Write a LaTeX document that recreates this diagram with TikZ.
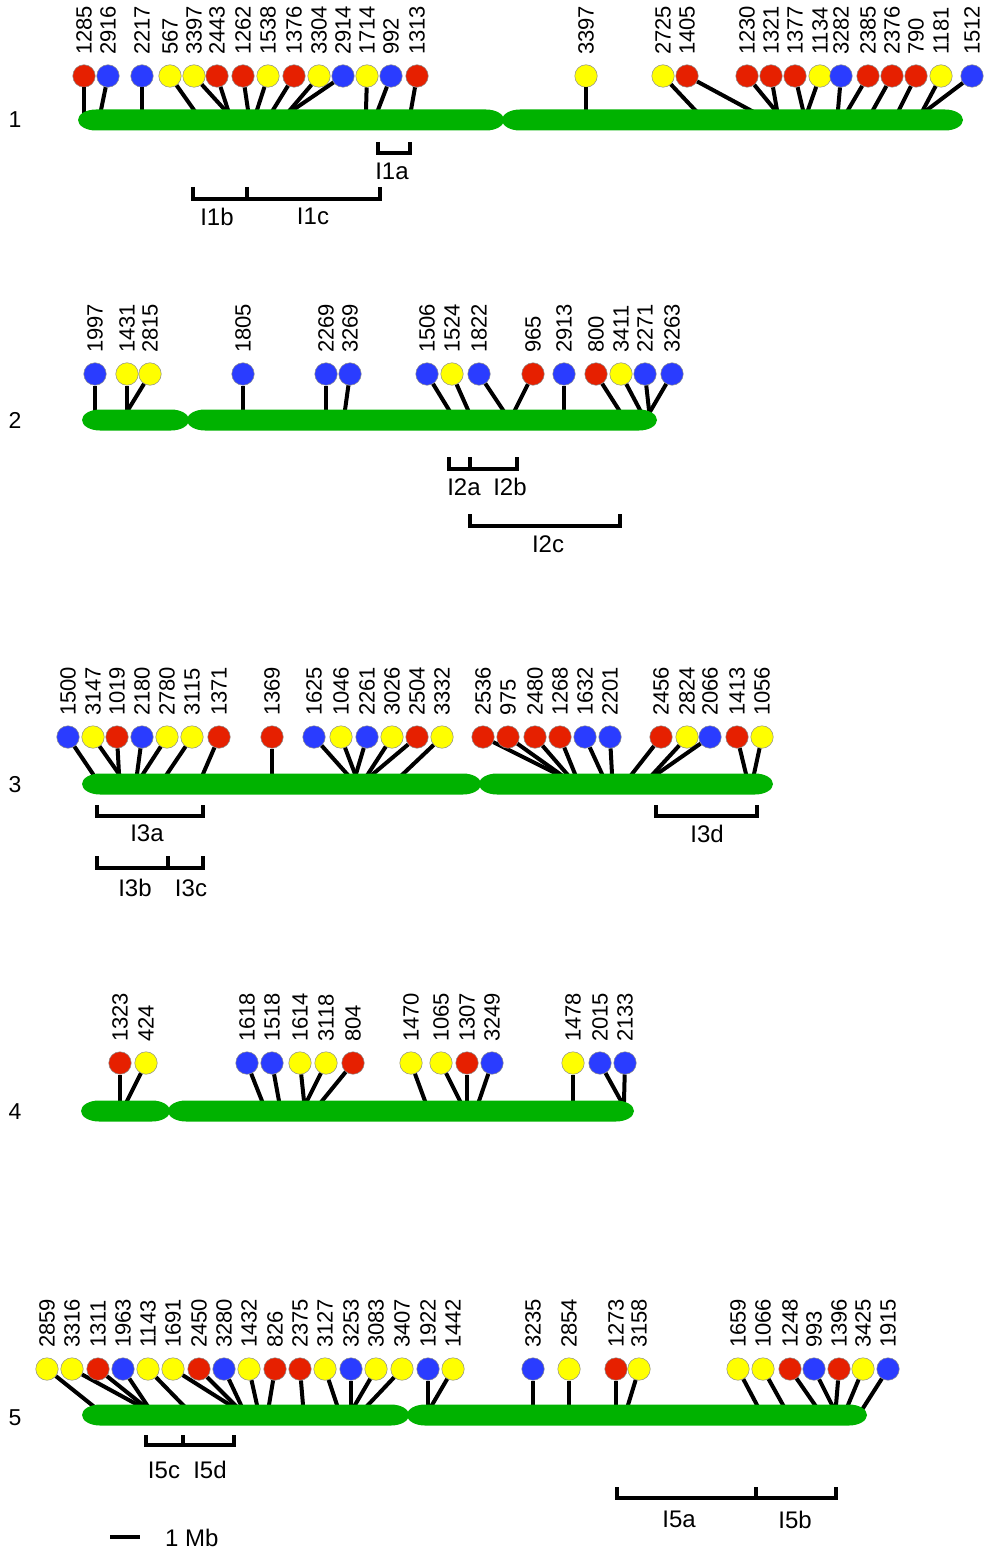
\documentclass[tikz,border=0pt]{standalone}
\usepackage{fontspec}
\setmainfont{Liberation Sans}
\usepackage{xcolor}
\usepackage{tikz}
\usetikzlibrary{positioning, calc}

\definecolor{cR}{RGB}{230,32,0}
\definecolor{cB}{RGB}{42,60,255}
\definecolor{cY}{RGB}{255,255,0}
\definecolor{chrgreen}{RGB}{0,178,0}

% one arm of a chromosome: left x, right x, centre y
\newcommand\chrarm[3]{%
  \fill[chrgreen] (#1+18,#3-10.5) -- (#2-18,#3-10.5)
    arc[start angle=-90, end angle=90, x radius=18, y radius=10.5]
    -- (#1+18,#3+10.5)
    arc[start angle=90, end angle=270, x radius=18, y radius=10.5] -- cycle;}
% bracket: left x, right x, top y, bottom y
\newcommand\brkt[4]{%
  \draw[brk] (#1,#3) -- (#1,#4) -- (#2,#4) -- (#2,#3);}

\begin{document}
\begin{tikzpicture}[x=1pt, y=-1pt,
  snp/.style={circle, draw=black!45, line width=0.5pt, minimum size=22.5pt, inner sep=0pt},
  num/.style={rotate=90, anchor=west, inner sep=0pt, font=\fontsize{22}{22}\selectfont},
  stem/.style={line width=4pt, shorten >=-6pt},
  brk/.style={line width=3.4pt, line join=miter},
  lbl/.style={inner sep=0pt, font=\fontsize{24}{24}\selectfont},
  chr/.style={inner sep=0pt, font=\fontsize{23}{23}\selectfont}
]
\useasboundingbox (0,0) rectangle (984,1554);

% chromosome 1
\node[chr] (chr1) at (15,120) {1};
\foreach \cx/\bx/\col/\lab [count=\i] in {84/84/R/1285, 108/101/B/2916, 142/142/B/2217,
    170/194/Y/567, 194/225/Y/3397, 217/228/R/2443, 243/248/R/1262, 268/257/Y/1538,
    294/273/R/1376, 319/290/Y/3304, 343/293/B/2914, 367/366/Y/1714, 391/378/B/992,
    417/411/R/1313, 586/586/Y/3397, 663/695/Y/2725, 687/750/R/1405, 747/775/R/1230,
    771/777/R/1321, 795/803/R/1377, 820/808/Y/1134, 841/838/B/3282, 868/848/R/2385,
    892/873/R/2376, 916/899/R/790, 941/923/Y/1181, 972/927/B/1512} {
  \node[snp, fill=c\col] (s1-\i) at (\cx,76) {};
  \node[num] (n1-\i) at (\cx,55) {\lab};
  \coordinate (a1-\i) at (\bx,110);
  \draw[stem] (s1-\i) -- (a1-\i);
}
\chrarm{78}{504}{120}
\chrarm{502}{963}{120}
\brkt{378}{410}{142}{153}
\node[lbl] (i1a) at (392,171) {I1a};
\brkt{193}{380}{187}{199}
\draw[brk] (247,187) -- (247,199);
\node[lbl] (i1b) at (217,217) {I1b};
\node[lbl] (i1c) at (313,216) {I1c};

% chromosome 2
\node[chr] (chr2) at (15,420) {2};
\foreach \cx/\bx/\col/\lab [count=\i] in {95/95/B/1997, 127/127/Y/1431, 150/128/Y/2815,
    243/243/B/1805, 326/326/B/2269, 350/345/B/3269, 427/449/B/1506, 452/468/Y/1524,
    479/503/B/1822, 533/515/R/965, 564/564/B/2913, 596/619/R/800, 621/640/Y/3411,
    645/649/B/2271, 672/651/B/3263} {
  \node[snp, fill=c\col] (s2-\i) at (\cx,374) {};
  \node[num] (n2-\i) at (\cx,353) {\lab};
  \coordinate (a2-\i) at (\bx,410);
  \draw[stem] (s2-\i) -- (a2-\i);
}
\chrarm{82}{189}{420}
\chrarm{187}{657}{420}
\brkt{449}{517}{457}{469}
\draw[brk] (470,457) -- (470,469);
\node[lbl] (i2a) at (464,487) {I2a};
\node[lbl] (i2b) at (510,487) {I2b};
\brkt{470}{620}{514}{526}
\node[lbl] (i2c) at (548,544) {I2c};

% chromosome 3
\node[chr] (chr3) at (15,785) {3};
\foreach \cx/\bx/\col/\lab [count=\i] in {68/93/B/1500, 93/119/Y/3147, 117/119/R/1019,
    142/137/B/2180, 167/143/Y/2780, 192/167/Y/3115, 219/203/R/1371, 272/272/R/1369,
    314/347/B/1625, 341/355/Y/1046, 367/356/B/2261, 392/368/Y/3026, 417/373/R/2504,
    442/403/Y/3332, 483/557/R/2536, 508/560/R/975, 535/567/R/2480, 560/575/R/1268,
    585/602/B/1632, 610/612/B/2201, 661/632/R/2456, 687/653/Y/2824, 710/657/B/2066,
    737/746/R/1413, 762/754/Y/1056} {
  \node[snp, fill=c\col] (s3-\i) at (\cx,737) {};
  \node[num] (n3-\i) at (\cx,716) {\lab};
  \coordinate (a3-\i) at (\bx,774);
  \draw[stem] (s3-\i) -- (a3-\i);
}
\chrarm{82}{481}{784}
\chrarm{479}{773}{784}
\brkt{97}{203}{805}{816}
\node[lbl] (i3a) at (147,833) {I3a};
\brkt{97}{203}{856}{868}
\draw[brk] (168,856) -- (168,868);
\node[lbl] (i3b) at (135,888) {I3b};
\node[lbl] (i3c) at (191,888) {I3c};
\brkt{656}{757}{805}{816}
\node[lbl] (i3d) at (707,834) {I3d};

% chromosome 4
\node[chr] (chr4) at (15,1112) {4};
\foreach \cx/\bx/\col/\lab [count=\i] in {120/120/R/1323, 146/127/Y/424, 247/262/B/1618,
    272/279/B/1518, 300/304/Y/1614, 326/307/Y/3118, 353/322/R/804, 411/425/Y/1470,
    441/460/Y/1065, 467/467/R/1307, 492/479/B/3249, 573/573/Y/1478, 600/621/B/2015,
    625/624/B/2133} {
  \node[snp, fill=c\col] (s4-\i) at (\cx,1063) {};
  \node[num] (n4-\i) at (\cx,1042) {\lab};
  \coordinate (a4-\i) at (\bx,1101);
  \draw[stem] (s4-\i) -- (a4-\i);
}
\chrarm{81}{170}{1111}
\chrarm{168}{634}{1111}

% chromosome 5
\node[chr] (chr5) at (15,1418) {5};
\foreach \cx/\bx/\col/\lab [count=\i] in {47/92/Y/2859, 72/138/Y/3316, 98/143/R/1311,
    123/147/B/1963, 148/183/Y/1143, 173/230/Y/1691, 199/235/R/2450, 224/241/B/3280,
    249/257/Y/1432, 275/269/R/826, 300/303/R/2375, 325/337/Y/3127, 351/351/B/3253,
    376/355/Y/3083, 402/368/Y/3407, 428/428/B/1922, 453/432/Y/1442, 533/533/B/3235,
    569/569/Y/2854, 616/616/R/1273, 639/628/Y/3158, 738/757/Y/1659, 763/783/Y/1066,
    790/815/R/1248, 814/832/B/993, 839/836/R/1396, 863/848/Y/3425, 888/865/B/1915} {
  \node[snp, fill=c\col] (s5-\i) at (\cx,1369) {};
  \node[num] (n5-\i) at (\cx,1348) {\lab};
  \coordinate (a5-\i) at (\bx,1405);
  \draw[stem] (s5-\i) -- (a5-\i);
}
\chrarm{82}{409}{1415}
\chrarm{407}{867}{1415}
\brkt{146}{234}{1435}{1445}
\draw[brk] (183,1435) -- (183,1445);
\node[lbl] (i5c) at (164,1470) {I5c};
\node[lbl] (i5d) at (210,1470) {I5d};
\brkt{617}{836}{1487}{1498}
\draw[brk] (756,1487) -- (756,1498);
\node[lbl] (i5a) at (679,1519) {I5a};
\node[lbl] (i5b) at (795,1520) {I5b};

% scale bar
\coordinate (sb1) at (110,1537);
\coordinate (sb2) at (140,1537);
\draw[line width=3.4pt] (sb1) -- (sb2);
\node[lbl, anchor=west] (mb) at (165,1538) {1 Mb};
\end{tikzpicture}
\end{document}
